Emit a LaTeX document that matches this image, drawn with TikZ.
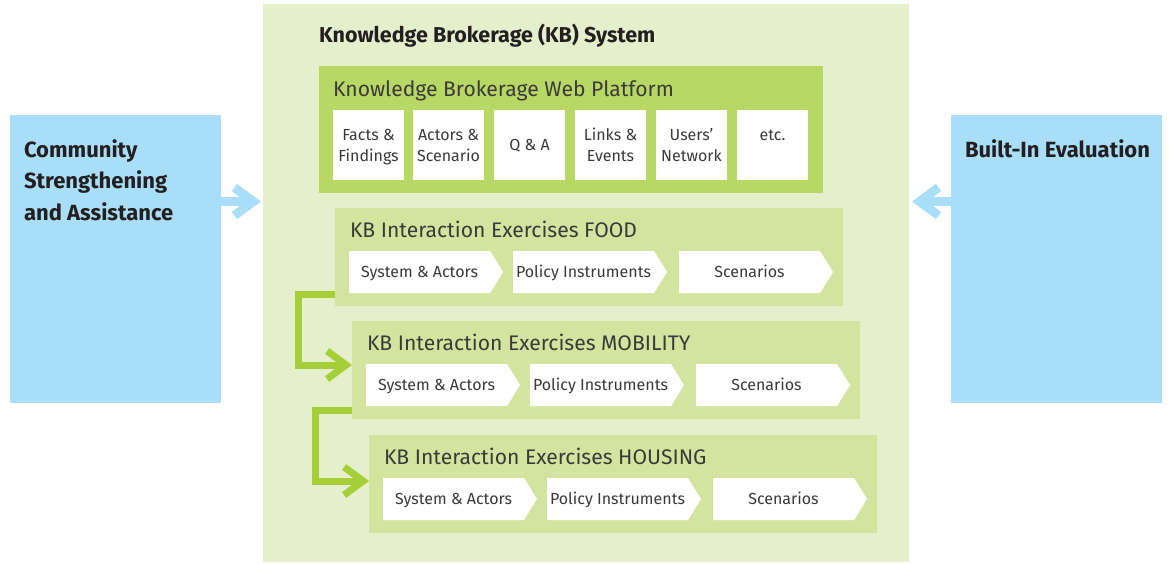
\documentclass[tikz,border=0pt]{standalone}
\usepackage{fontspec}
\setmainfont{Fira Sans}
\usetikzlibrary{arrows.meta}
\definecolor{kbbg}{HTML}{E5EFCC}
\definecolor{webg}{HTML}{B8D865}
\definecolor{exg}{HTML}{D3E49F}
\definecolor{sky}{HTML}{A9DEF9}
\definecolor{lime}{HTML}{A6CE39}
\definecolor{txt}{HTML}{3A3A3A}
\definecolor{dark}{HTML}{231F20}
\newcommand\tstrut{\rule[-5pt]{0pt}{21pt}}
\tikzset{
  every node/.style={inner sep=0, outer sep=0},
  kbbox/.style={fill=kbbg, minimum width=646, minimum height=558, anchor=north west},
  sidebox/.style={fill=sky, minimum width=211, minimum height=288, anchor=north west},
  webbox/.style={fill=webg, minimum width=504, minimum height=127, anchor=north west},
  exbox/.style={fill=exg, minimum width=508, minimum height=98, anchor=north west},
  tile/.style={fill=white, minimum width=71, minimum height=70, anchor=north west, align=center, text=txt, font=\fontsize{16}{21}\selectfont},
  bigtitle/.style={anchor=west, text=dark, text height=15, text depth=0, font=\bfseries\fontsize{21.5}{24}\selectfont},
  subtitle/.style={anchor=west, text=txt, text height=15, text depth=0, font=\fontsize{21.1}{24}\selectfont},
  sidetext/.style={anchor=north west, align=left, text=dark, font=\bfseries\fontsize{22}{31.5}\selectfont},
  chevtext/.style={text=txt, text height=11.2, text depth=0, font=\fontsize{16}{18}\selectfont},
  bluearr/.style={draw=sky, line width=9, -{Straight Barb[length=19,width=28]}},
  conn/.style={draw=lime, line width=7, -{Straight Barb[length=19,width=28]}},
}
\newcommand\chevbox[4]{%
  \fill[white] (#2,#3) -- ++(141,0) -- ++(13,21) -- ++(-13,21) -- ++(-141,0) -- cycle;
  \node[chevtext] (#1) at (#2+70.5,#3+21) {#4};
}
\newcommand\exercise[4]{%
  \node[exbox] (#1) at (#2,#3) {};
  \node[subtitle] (#1t) at (#2+15,#3+22) {KB Interaction Exercises #4};
  \chevbox{#1a}{#2+14}{#3+43}{System \& Actors}
  \chevbox{#1b}{#2+178}{#3+43}{Policy Instruments}
  \chevbox{#1c}{#2+344}{#3+43}{Scenarios}
}
\begin{document}
\begin{tikzpicture}[x=1pt,y=-1pt]
\useasboundingbox (0,0) rectangle (1169,563);
\node[kbbox] (kb) at (263,4) {};
\node[sidebox] (comm) at (10,115) {};
\node[sidebox] (built) at (951,115) {};
\node[sidetext] (commt) at (24,139.5) {Community\\Strengthening\\and Assistance};
\node[sidetext] (builtt) at (965,139.5) {Built-In Evaluation};
\node[bigtitle] (kbt) at (319,35.2) {Knowledge Brokerage (KB) System};
\node[webbox] (web) at (319,66) {};
\node[subtitle] (webt) at (333,88.5) {Knowledge Brokerage Web Platform};
\node[tile] (t1) at (333,110) {\tstrut Facts \&\\\tstrut Findings};
\node[tile] (t2) at (413,110) {\tstrut Actors \&\\\tstrut Scenario};
\node[tile] (t3) at (494,110) {\tstrut Q \& A};
\node[tile] (t4) at (575,110) {\tstrut Links \&\\\tstrut Events};
\node[tile] (t5) at (656,110) {\tstrut Users'\\\tstrut Network};
\node[tile] (t6) at (737,110) {\tstrut etc.\\\tstrut};
\draw[conn] (335,294) coordinate (c1) -- ++(-37,0) |- (352,365) coordinate (c2);
\draw[conn] (352,410) coordinate (c3) -- ++(-37,0) |- (369,481) coordinate (c4);
\exercise{food}{335}{208}{FOOD}
\exercise{mob}{352}{321}{MOBILITY}
\exercise{hous}{369}{435}{HOUSING}
\draw[bluearr] ([yshift=57.5pt]comm.east) -- ([yshift=57.5pt,xshift=-2pt]comm.east -| kb.west);
\draw[bluearr] ([yshift=57.5pt]built.west) -- ([yshift=57.5pt,xshift=3pt]built.west -| kb.east);
\end{tikzpicture}
\end{document}
